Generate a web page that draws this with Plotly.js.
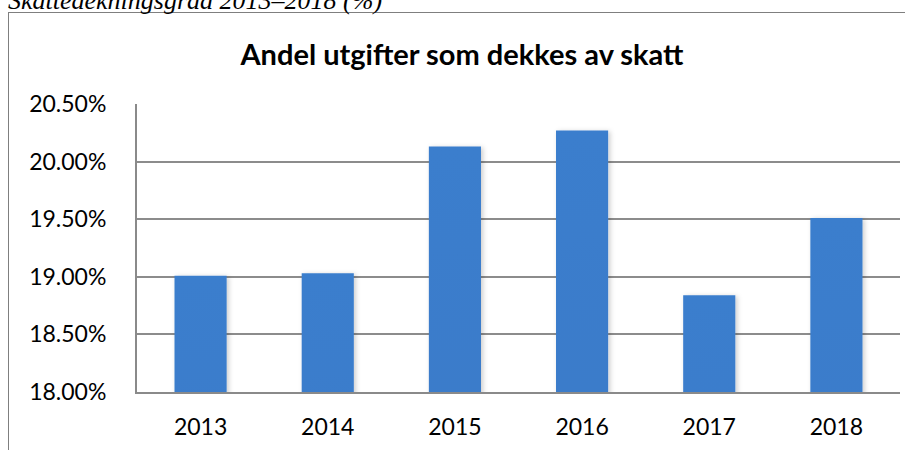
<!DOCTYPE html>
<html>
<head>
<meta charset="utf-8">
<script src="https://cdn.plot.ly/plotly-3.0.1.min.js"></script>
<style>
  html, body { margin: 0; padding: 0; background: #fff; overflow: hidden; }
  #wrap { position: relative; width: 905px; height: 450px; }
  #frame { position: absolute; left: 8px; top: 12px; width: 1000px; height: 600px; border: 1.5px solid #7f7f7f; box-sizing: border-box; }
  #caption { position: absolute; left: 8px; top: -14px; font-family: "Liberation Serif", "Times New Roman", serif; font-style: italic; font-size: 26px; color: #000; white-space: nowrap; }
  #chart { position: absolute; left: 0; top: 0; width: 905px; height: 450px; }
</style>
</head>
<body>
<div id="wrap">
  <div id="frame"></div>
  <div id="caption">Skattedekningsgrad 2013–2018 (%)</div>
  <div id="chart"></div>
</div>
<svg width="0" height="0" style="position:absolute">
  <defs>
    <linearGradient id="barGradient" x1="0" y1="0" x2="0" y2="1">
      <stop offset="0%" stop-color="#3b7ecd"/>
      <stop offset="45%" stop-color="#3874c1"/>
      <stop offset="100%" stop-color="#2d5c9a"/>
    </linearGradient>
    <filter id="barShadow" x="-30%" y="-10%" width="160%" height="120%">
      <feDropShadow dx="2" dy="1" stdDeviation="2.5" flood-color="#000" flood-opacity="0.2"/>
    </filter>
  </defs>
</svg>
<script>
const years = ["2013", "2014", "2015", "2016", "2017", "2018"];
const shareCoveredByTax = [19.01, 19.03, 20.13, 20.27, 18.84, 19.51];
const yTicks = [18.0, 18.5, 19.0, 19.5, 20.0, 20.5];
const chartTitle = "Andel utgifter som dekkes av skatt";

const trace = {
  type: "bar",
  x: years,
  y: shareCoveredByTax,
  marker: { color: "#3670b8", line: { width: 0 } },
  hoverinfo: "x+y"
};

const layout = {
  width: 905,
  height: 450,
  paper_bgcolor: "rgba(0,0,0,0)",
  plot_bgcolor: "rgba(0,0,0,0)",
  margin: { l: 137, r: 5, t: 104, b: 58 },
  bargap: 0.59,
  showlegend: false,
  title: {
    text: "<b>" + chartTitle + "</b>",
    font: { family: "Lato, 'Open Sans', sans-serif", size: 29, color: "#000" },
    x: 462 / 905, xanchor: "center", xref: "container",
    y: 0.878, yanchor: "middle", yref: "container"
  },
  xaxis: {
    type: "category", showgrid: false, showline: true, linecolor: "#8a8a8a", linewidth: 2,
    ticks: "", ticklabelstandoff: 13,
    tickfont: { family: "Lato, 'Open Sans', sans-serif", size: 23, color: "#000" }, fixedrange: true
  },
  yaxis: {
    range: [18, 20.5], tickvals: yTicks, ticktext: yTicks.map(v => v.toFixed(2) + "%"),
    showgrid: true, gridcolor: "#8c8c8c", gridwidth: 2, zeroline: false,
    showline: true, linecolor: "#8a8a8a", linewidth: 2, ticks: "", ticklabelstandoff: 24,
    tickfont: { family: "Lato, 'Open Sans', sans-serif", size: 23, color: "#000" }, fixedrange: true
  }
};

function styleBars() {
  document.querySelectorAll("#chart g.point path").forEach(function (p) {
    p.style.removeProperty("fill");
    p.setAttribute("fill", "url(#barGradient)");
    p.setAttribute("filter", "url(#barShadow)");
  });
}

const gd = document.getElementById("chart");
const pr = Plotly.newPlot(gd, [trace], layout, { staticPlot: true, displayModeBar: false });
styleBars();
if (pr && pr.then) pr.then(styleBars);
</script>
</body>
</html>
